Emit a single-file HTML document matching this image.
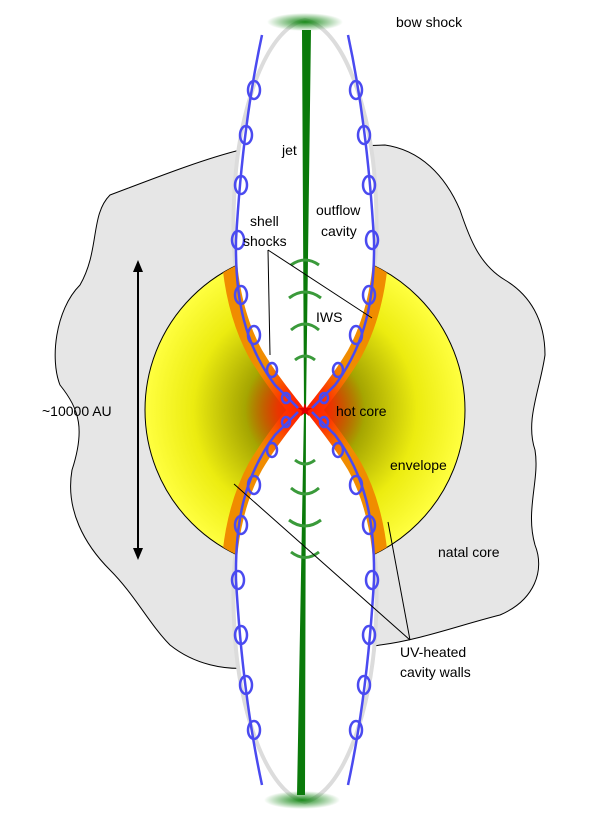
<!DOCTYPE html>
<html><head><meta charset="utf-8"><style>
html,body{margin:0;padding:0;background:#fff;}
svg{display:block;}
text{font-family:"Liberation Sans",sans-serif;font-size:14px;fill:#000;}
</style></head><body>
<svg width="607" height="819" viewBox="0 0 607 819">
<defs>
<radialGradient id="envg" cx="305" cy="410" r="160" gradientUnits="userSpaceOnUse">
<stop offset="0" stop-color="#4e4e00"/><stop offset="0.35" stop-color="#a0a000"/><stop offset="0.7" stop-color="#ecec10"/><stop offset="1" stop-color="#ffff40"/>
</radialGradient>
<radialGradient id="redg" cx="305" cy="410" r="60" gradientUnits="userSpaceOnUse">
<stop offset="0" stop-color="#ff1a00"/><stop offset="0.45" stop-color="#ff2a00" stop-opacity="0.85"/><stop offset="1" stop-color="#ff4000" stop-opacity="0"/>
</radialGradient>
<radialGradient id="bowg" cx="0.5" cy="0.5" r="0.5"><stop offset="0" stop-color="#1a8a1a"/><stop offset="1" stop-color="#1a8a1a" stop-opacity="0"/></radialGradient>
<clipPath id="envclip"><circle cx="305" cy="410" r="160"/></clipPath>
<marker id="ah" markerWidth="12" markerHeight="12" refX="6" refY="6" orient="auto-start-reverse" markerUnits="userSpaceOnUse"><path d="M0,1 L12,6 L0,11 Z" fill="#000"/></marker>
</defs>
<path d="M240,150 C200,160 150,180 110,195 C90,215 100,250 80,285 C55,310 50,360 60,385 C80,410 85,430 72,470 C65,510 85,545 110,570 C135,595 150,625 170,645 C195,665 225,670 250,668 L380,645 C420,640 460,625 500,615 C535,600 545,570 535,545 C525,510 540,480 535,450 C525,420 540,390 545,355 C545,320 530,295 505,280 C480,265 470,240 460,210 C445,175 420,150 385,145 Z" fill="#e6e6e6" stroke="#000" stroke-width="1"/>
<path d="M305,22 C270,30 245,100 238,170 C232,240 235,300 262,350 C280,380 298,400 305,410 C298,420 280,440 262,470 C235,520 232,580 238,650 C245,720 270,790 305,800 C340,790 365,720 372,650 C378,580 375,520 348,470 C330,440 312,420 305,410 C312,400 330,380 348,350 C375,300 378,240 372,170 C365,100 340,30 305,22 Z" fill="none" stroke="#dcdcdc" stroke-width="8"/>
<circle cx="305" cy="410" r="160" fill="url(#envg)" stroke="#000" stroke-width="1"/>
<g clip-path="url(#envclip)">
<path d="M305,22 C270,30 245,100 238,170 C232,240 235,300 262,350 C280,380 298,400 305,410 C298,420 280,440 262,470 C235,520 232,580 238,650 C245,720 270,790 305,800 C340,790 365,720 372,650 C378,580 375,520 348,470 C330,440 312,420 305,410 C312,400 330,380 348,350 C375,300 378,240 372,170 C365,100 340,30 305,22 Z" fill="none" stroke="#f08c00" stroke-width="30"/>
<circle cx="305" cy="410" r="60" fill="url(#redg)"/>
</g>
<path d="M305,22 C270,30 245,100 238,170 C232,240 235,300 262,350 C280,380 298,400 305,410 C298,420 280,440 262,470 C235,520 232,580 238,650 C245,720 270,790 305,800 C340,790 365,720 372,650 C378,580 375,520 348,470 C330,440 312,420 305,410 C312,400 330,380 348,350 C375,300 378,240 372,170 C365,100 340,30 305,22 Z" fill="#fff"/>
<ellipse cx="305" cy="22" rx="38" ry="9" fill="url(#bowg)"/>
<ellipse cx="302" cy="800" rx="38" ry="9" fill="url(#bowg)"/>
<path d="M302,30 L311,30 L306,410 L305,795 L297,795 L304,410 Z" fill="#0a7a0a"/>
<g fill="none" stroke="#3a9a3a" stroke-width="3">
<path d="M291,265 Q305,255 319,265"/><path d="M289,298 Q305,286 321,298"/><path d="M291,330 Q305,318 319,330"/><path d="M295,360 Q305,352 315,360"/>
<path d="M295,460 Q305,468 315,460"/><path d="M291,488 Q305,500 319,488"/><path d="M289,520 Q305,532 321,520"/><path d="M291,552 Q305,563 319,552"/>
</g>
<g fill="none" stroke="#4a4af0" stroke-width="2.5">
<path d="M262,35 C248,100 240,170 236,240 C235,300 245,345 275,385 L298,408 M298,412 L275,435 C245,475 235,520 236,580 C240,650 248,720 262,785"/>
<path d="M348,35 C362,100 370,170 374,240 C375,300 365,345 335,385 L312,408 M312,412 L335,435 C365,475 375,520 374,580 C370,650 362,720 348,785"/>
<ellipse cx="254" cy="90" rx="6" ry="9"/><ellipse cx="246" cy="135" rx="6" ry="9"/><ellipse cx="241" cy="185" rx="6" ry="9"/><ellipse cx="238" cy="240" rx="6" ry="9"/><ellipse cx="241" cy="295" rx="6" ry="9"/><ellipse cx="254" cy="335" rx="6" ry="9"/><ellipse cx="272" cy="370" rx="5" ry="7"/>
<ellipse cx="356" cy="90" rx="6" ry="9"/><ellipse cx="364" cy="135" rx="6" ry="9"/><ellipse cx="369" cy="185" rx="6" ry="9"/><ellipse cx="372" cy="240" rx="6" ry="9"/><ellipse cx="369" cy="295" rx="6" ry="9"/><ellipse cx="356" cy="335" rx="6" ry="9"/><ellipse cx="338" cy="370" rx="5" ry="7"/>
<ellipse cx="272" cy="450" rx="5" ry="7"/><ellipse cx="254" cy="485" rx="6" ry="9"/><ellipse cx="241" cy="525" rx="6" ry="9"/><ellipse cx="238" cy="580" rx="6" ry="9"/><ellipse cx="241" cy="635" rx="6" ry="9"/><ellipse cx="246" cy="685" rx="6" ry="9"/><ellipse cx="254" cy="730" rx="6" ry="9"/>
<ellipse cx="338" cy="450" rx="5" ry="7"/><ellipse cx="356" cy="485" rx="6" ry="9"/><ellipse cx="369" cy="525" rx="6" ry="9"/><ellipse cx="372" cy="580" rx="6" ry="9"/><ellipse cx="369" cy="635" rx="6" ry="9"/><ellipse cx="364" cy="685" rx="6" ry="9"/><ellipse cx="356" cy="730" rx="6" ry="9"/>
<ellipse cx="286" cy="398" rx="4" ry="5"/><ellipse cx="324" cy="398" rx="4" ry="5"/><ellipse cx="286" cy="422" rx="4" ry="5"/><ellipse cx="324" cy="422" rx="4" ry="5"/>
</g>
<text x="305" y="416" text-anchor="middle" style="fill:#e00000;font-size:18px">★</text>
<line x1="138" y1="266" x2="138" y2="554" stroke="#000" stroke-width="2" marker-start="url(#ah)" marker-end="url(#ah)"/>
<g stroke="#000" stroke-width="1" fill="none">
<path d="M268,250 L270,355 M268,250 L372,318"/>
<path d="M410,640 L234,484 M410,640 L388,522"/>
</g>
<text x="396" y="27">bow shock</text>
<text x="282" y="155">jet</text>
<text x="316" y="215">outflow</text>
<text x="321" y="236">cavity</text>
<text x="250" y="226">shell</text>
<text x="243" y="246">shocks</text>
<text x="316" y="322">IWS</text>
<text x="42" y="416">~10000 AU</text>
<text x="336" y="416">hot core</text>
<text x="390" y="470">envelope</text>
<text x="438" y="557">natal core</text>
<text x="400" y="657">UV-heated</text>
<text x="400" y="677">cavity walls</text>
</svg>
</body></html>
